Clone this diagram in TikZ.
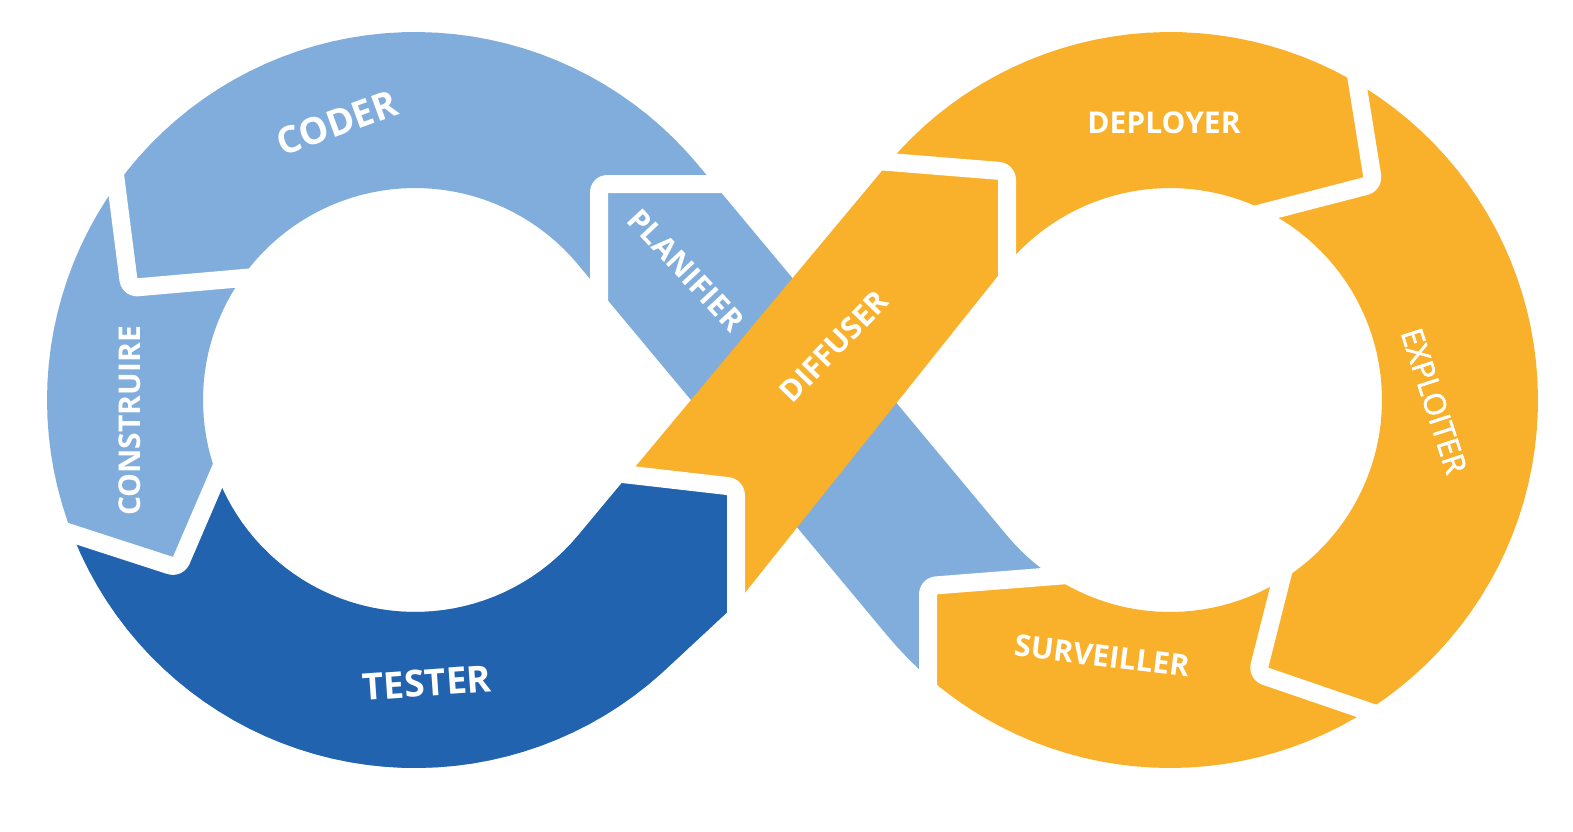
\documentclass[tikz,border=0pt]{standalone}
\usepackage{fontspec}
\setmainfont{Open Sans}
\newfontfamily\midfont[FakeBold=2]{Open Sans}
\definecolor{lb}{HTML}{80ADDC}
\definecolor{db}{HTML}{2163AE}
\definecolor{og}{HTML}{F9B02A}
\def\bluepath{(928,677.2) -- (928,586) -- (1052.7,576.6)
 -- plot[domain=123.6:140.19,samples=10] ({1170+212*cos(\x)},{400+212*sin(\x)})
 -- (697.7,164.4)
 -- plot[domain=-39.81:-312,samples=100] ({415+368*cos(\x)},{400+368*sin(\x)})
 -- (736,604) -- (736,487) -- (628.7,474.7) -- (577.9,535.7)
 -- plot[domain=39.81:320.19,samples=100] ({415+212*cos(\x)},{400+212*sin(\x)})
 -- (887.3,635.6)
 -- plot[domain=140.19:131.1,samples=5] ({1170+368*cos(\x)},{400+368*sin(\x)})
 -- cycle}
\begin{document}
\begin{tikzpicture}[x=1pt,y=-1pt,
  gap/.style={draw=white,line width=18pt,line join=round,rounded corners=8pt},
  lbl/.style={text=white,inner sep=0pt,font=\bfseries\fontsize{30}{30}\selectfont},
  big/.style={font=\bfseries\fontsize{37}{37}\selectfont}]
\fill[white] (0,0) rectangle (1573,831);
\useasboundingbox (0,0) rectangle (1573,831);
% blue band (left loop + descending diagonal)
\fill[lb] \bluepath;
\begin{scope}
\clip \bluepath;
\fill[db] (0,511) -- (178,568) -- (235,435) -- (450,420) -- (628.7,474.7) -- (736,487) -- (736,831) -- (0,831) -- cycle;
\end{scope}
% orange band (right loop + ascending diagonal)
\fill[og] (628.7,474.7) -- (736,487) -- (736,604) -- (1007.1,264.3)
 -- plot[domain=219.81:483.6,samples=100] ({1170+212*cos(\x)},{400+212*sin(\x)})
 -- (928,586) -- (928,677.2)
 -- plot[domain=491.1:219.81,samples=100] ({1170+368*cos(\x)},{400+368*sin(\x)})
 -- cycle;
% white gaps between the stages
\draw[gap] (599,312) -- (599,184) -- (735,184);
\draw[gap] (108,120) -- (129.5,288) -- (255,277);
\draw[gap] (30,520) -- (178,568) -- (236,433);
\draw[gap] (600,471.4) -- (736,487) -- (736,660);
\draw[gap] (868,160.3) -- (1007,171.5) -- (1007,305);
\draw[gap] (1350,38) -- (1373.5,184) -- (1250,216);
\draw[gap] (1292.5,535) -- (1257.5,673.5) -- (1400,722.3);
\draw[gap] (928,705) -- (928,586) -- (1068,575);
% labels
\node[lbl,big,rotate=20] (coder) at (337,123) {CODER};
\node[lbl,rotate=90] (construire) at (130,421) {CONSTRUIRE};
\node[lbl,big,rotate=4] (tester) at (427,683) {TESTER};
\node[lbl,rotate=-47] (planifier) at (686,270) {PLANIFIER};
\node[lbl,rotate=46] (diffuser) at (834,346) {DIFFUSER};
\node[lbl] (deployer) at (1164,123) {DEPLOYER};
\node[text=white,inner sep=0pt,font=\midfont\fontsize{30}{30}\selectfont,rotate=-72] (exploiter) at (1434,401) {EXPLOITER};
\node[lbl,rotate=-7] (surveiller) at (1102,656) {SURVEILLER};
\end{tikzpicture}
\end{document}
